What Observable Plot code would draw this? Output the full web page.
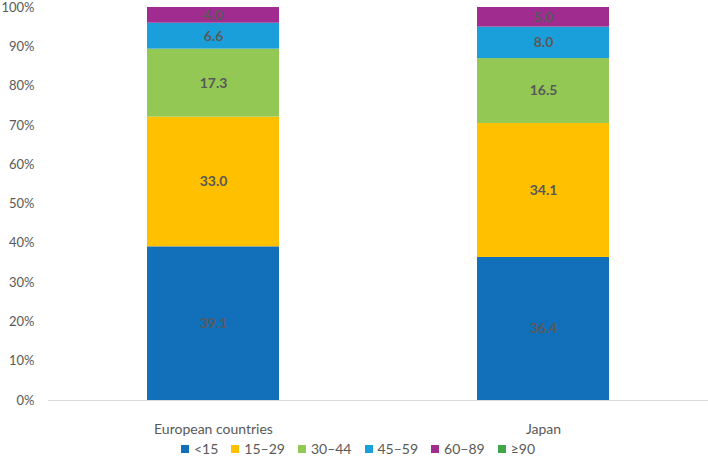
<!DOCTYPE html>
<html>
<head>
<meta charset="utf-8">
<script src="https://cdn.jsdelivr.net/npm/d3@7"></script>
<script src="https://cdn.jsdelivr.net/npm/@observablehq/plot@0.6"></script>
<style>
  body { margin: 0; background: #fff; font-family: Lato, "Open Sans", sans-serif; overflow: hidden; }
  #chart { width: 708px; }
  .legend { display: flex; justify-content: center; gap: 13px; font-size: 14px; color: #595959; margin-top: 2px; margin-left: 8px; line-height: 14px; height: 14px; }
  .legend span.item { display: inline-flex; align-items: center; }
  .legend span.sw { width: 8px; height: 8px; display: inline-block; margin-right: 5px; }
</style>
</head>
<body>
<div id="chart"></div>
<script>
const categories = ["European countries", "Japan"];
const ageGroups = ["<15", "15–29", "30–44", "45–59", "60–89", "≥90"];
const europeValues = [39.1, 33.0, 17.3, 6.6, 4.0, 0];
const japanValues = [36.4, 34.1, 16.5, 8.0, 5.0, 0];
const colors = ["#1170B9", "#FFC000", "#92C853", "#1B9FDA", "#A02C90", "#3FA74A"];
const yTicks = [0, 10, 20, 30, 40, 50, 60, 70, 80, 90, 100];

const seriesValues = [europeValues, japanValues];
const data = [];
ageGroups.forEach((age, i) => {
  categories.forEach((cat, j) => {
    data.push({category: cat, age, value: seriesValues[j][i]});
  });
});

const plot = Plot.plot({
  width: 708,
  height: 440,
  marginLeft: 48,
  marginRight: 0,
  marginTop: 7,
  marginBottom: 40,
  style: {fontFamily: "Lato, 'Open Sans', sans-serif", fontSize: "13px", color: "#595959"},
  x: {domain: categories, paddingInner: 0.6, paddingOuter: 0.3, label: null, tickSize: 0, tickPadding: 0},
  y: {domain: [0, 100], ticks: yTicks, tickFormat: d => d + "%", label: null, tickSize: 0, tickPadding: 14},
  color: {domain: ageGroups, range: colors},
  marks: [
    Plot.barY(data, Plot.stackY({x: "category", y: "value", z: "age", fill: "age"})),
    Plot.ruleY([0], {stroke: "#D9D9D9", strokeWidth: 1}),
    Plot.axisX({tickSize: 0, tickPadding: 0, dy: 24, fontSize: 14, label: null}),
    Plot.text(data.filter(d => d.value > 0), Plot.stackY({
      x: "category", y: "value", z: "age",
      text: d => d.value.toFixed(1),
      fill: "#595959", fontWeight: "bold", fontSize: 14
    }))
  ]
});
document.getElementById("chart").appendChild(plot);

const legend = document.createElement("div");
legend.className = "legend";
ageGroups.forEach((age, i) => {
  const item = document.createElement("span");
  item.className = "item";
  const sw = document.createElement("span");
  sw.className = "sw";
  sw.style.background = colors[i];
  item.appendChild(sw);
  item.appendChild(document.createTextNode(age));
  legend.appendChild(item);
});
document.getElementById("chart").appendChild(legend);
</script>
</body>
</html>
